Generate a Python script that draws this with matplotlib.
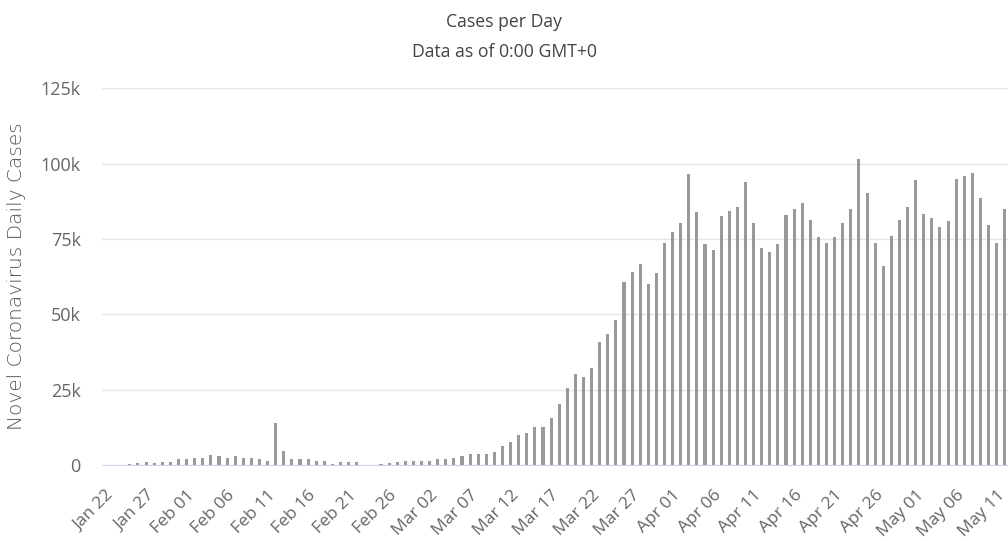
import matplotlib
matplotlib.use("Agg")
import matplotlib.pyplot as plt
from matplotlib.ticker import FuncFormatter
import numpy as np
import pandas as pd

# daily new cases, Jan 22 .. May 12 (in cases)
daily_cases = [
    100, 300, 300, 500, 700, 1300, 800, 1300, 1300, 2100,
    2100, 2600, 2600, 3600, 3100, 2600, 3100, 2600, 2600, 2100,
    1500, 14000, 4800, 2100, 2100, 2100, 1500, 1500, 400, 1000,
    1000, 1000, 300, 300, 500, 900, 1000, 1500, 1500, 1500,
    1600, 2100, 2100, 2600, 3300, 3800, 3800, 3800, 4300, 6600,
    7900, 10200, 10700, 12700, 12700, 15700, 20300, 25700, 30400, 29200,
    32200, 41000, 43600, 48200, 60700, 64100, 66700, 60200, 63600, 73700,
    77200, 80300, 96400, 83900, 73200, 71300, 82600, 84400, 85600, 93800,
    80300, 72000, 70700, 73200, 83100, 85100, 86900, 81400, 75500, 73800,
    75500, 80300, 85000, 101600, 90400, 73800, 66100, 76000, 81400, 85700,
    94400, 83200, 81900, 79100, 80800, 94900, 95700, 97000, 88500, 79700,
    73800, 85000,
]
dates = pd.date_range("2020-01-22", periods=len(daily_cases), freq="D")
tick_every = 5
y_ticks = [0, 25000, 50000, 75000, 100000, 125000]

title = "Cases per Day"
subtitle = "Data as of 0:00 GMT+0"
ylabel = "Novel Coronavirus Daily Cases"

sans = ["Open Sans", "DejaVu Sans"]

fig = plt.figure(figsize=(10.08, 5.41), dpi=100)
ax = fig.add_axes([0.1007, 0.1396, 0.8993, 0.6977])

x = np.arange(len(daily_cases))
ax.bar(x, daily_cases, width=0.38, color="#999999", zorder=3)

ax.set_xlim(-0.5, 111.4)
ax.set_ylim(0, 125000)
ax.set_yticks(y_ticks)
ax.yaxis.set_major_formatter(FuncFormatter(lambda v, p: "0" if v == 0 else "%dk" % (v / 1000)))
ax.grid(axis="y", color="#e6e6e6", linewidth=1, zorder=0)

xt = x[::tick_every]
ax.set_xticks(xt)
ax.set_xticklabels([d.strftime("%b %d") for d in dates[::tick_every]],
                   rotation=45, ha="right", rotation_mode="anchor",
                   family=sans, fontsize=12.5, color="#666666")
for lab in ax.get_yticklabels():
    lab.set_family(sans)
    lab.set_fontsize(13)
    lab.set_color("#666666")

ax.tick_params(axis="x", length=0, pad=15.5)
ax.tick_params(axis="y", length=0, pad=15)
for s in ["top", "right", "left"]:
    ax.spines[s].set_visible(False)
ax.spines["bottom"].set_color("#ccd6eb")
ax.spines["bottom"].set_zorder(4)

fig.text(0.5, 0.950, title, ha="center", va="baseline", fontsize=12.7,
         family=sans, color="#444444")
fig.text(0.5, 0.895, subtitle, ha="center", va="baseline", fontsize=12.7,
         family=sans, color="#444444")
fig.text(0.0165, 0.489, ylabel, rotation=90, ha="center", va="center",
         fontsize=14.5, family="DejaVu Sans", fontweight=200, color="#555555")

fig.savefig("out.png", dpi=100)
